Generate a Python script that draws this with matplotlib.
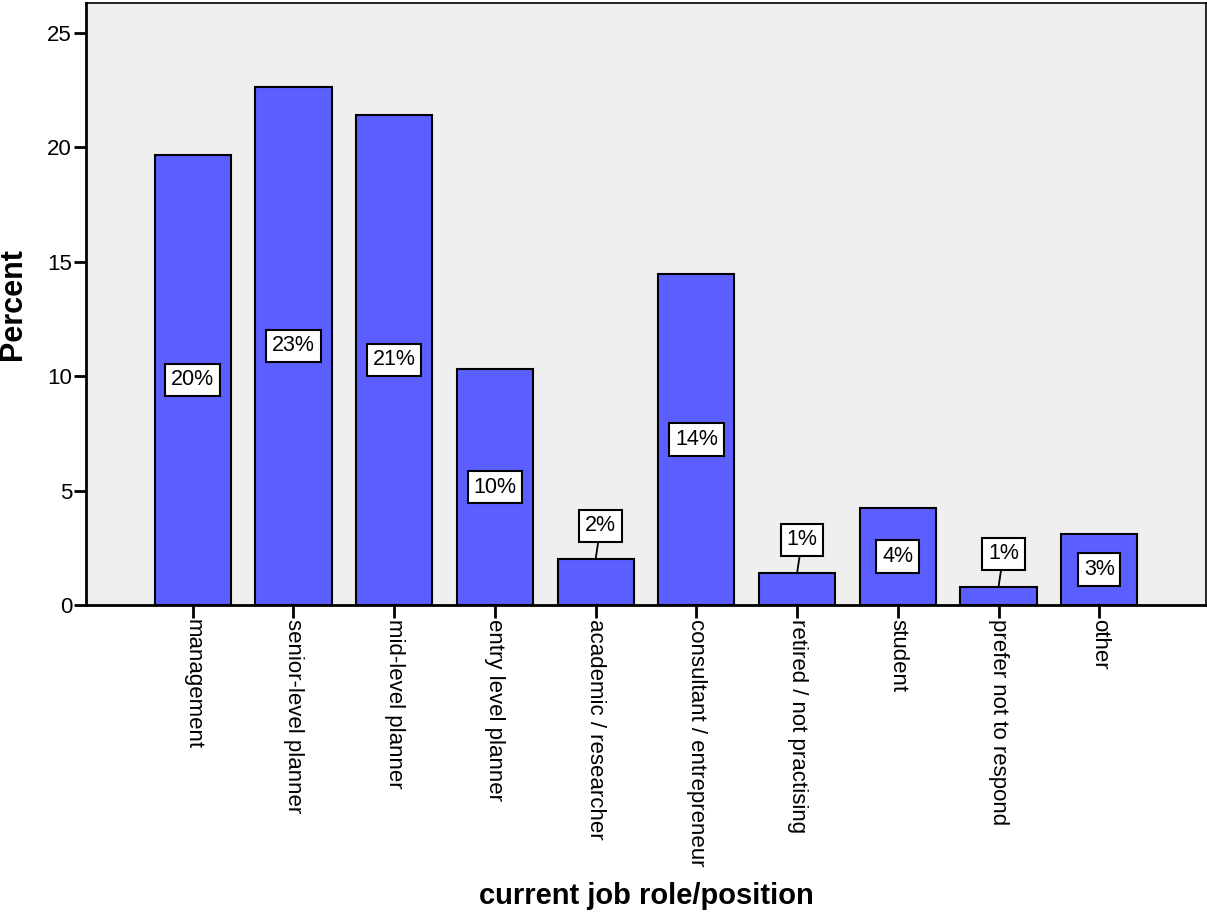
import matplotlib.pyplot as plt

plt.rcParams['font.family'] = ['Liberation Sans', 'DejaVu Sans']

# Data
roles = ['management', 'senior-level planner', 'mid-level planner', 'entry level planner',
         'academic / researcher', 'consultant / entrepreneur', 'retired / not practising',
         'student', 'prefer not to respond', 'other']
percents = [19.67, 22.64, 21.42, 10.31, 2.01, 14.47, 1.40, 4.24, 0.79, 3.10]
labels = ['20%', '23%', '21%', '10%', '2%', '14%', '1%', '4%', '1%', '3%']
outside = [False, False, False, False, True, False, True, False, True, False]

fig = plt.figure(figsize=(12.07, 9.13), dpi=100)
ax = fig.add_axes([86 / 1207, 1 - 605 / 913, 1120 / 1207, 602 / 913])
ax.set_facecolor('#efefef')

x = list(range(len(roles)))
ax.bar(x, percents, width=0.755, color='#5b5fff', edgecolor='black', linewidth=1.5, zorder=2)

box = dict(boxstyle='square,pad=0.27', facecolor='white', edgecolor='black', linewidth=1.5)
for xi, h, lab, out in zip(x, percents, labels, outside):
    if out:
        ax.annotate(lab, xy=(xi, h), xytext=(5, 33), textcoords='offset pixels',
                    ha='center', va='center', fontsize=15.5, bbox=box, zorder=4,
                    arrowprops=dict(arrowstyle='-', color='black', lw=1.3,
                                    shrinkA=0, shrinkB=0))
    else:
        ax.text(xi, h / 2, lab, ha='center', va='center', fontsize=15.5, bbox=box, zorder=4)

ax.set_xlim(-1.06, 10.06)
ax.set_ylim(0, 26.3)
ax.set_yticks([0, 5, 10, 15, 20, 25])
ax.set_xticks(x)
ax.set_xticklabels(roles, rotation=270, fontsize=16)
ax.tick_params(axis='y', labelsize=16, length=9, width=2, direction='out', pad=1)
ax.tick_params(axis='x', length=9, width=2, direction='out', pad=1)
for sp in ax.spines.values():
    sp.set_linewidth(1.2)
ax.spines['bottom'].set_linewidth(2)
ax.spines['left'].set_linewidth(2)

ax.set_ylabel('Percent', fontsize=22, fontweight='bold', labelpad=14)
fig.text(646 / 1207, 1 - 896 / 913, 'current job role/position', fontsize=21,
         fontweight='bold', ha='center', va='center')

plt.savefig('out.png')
